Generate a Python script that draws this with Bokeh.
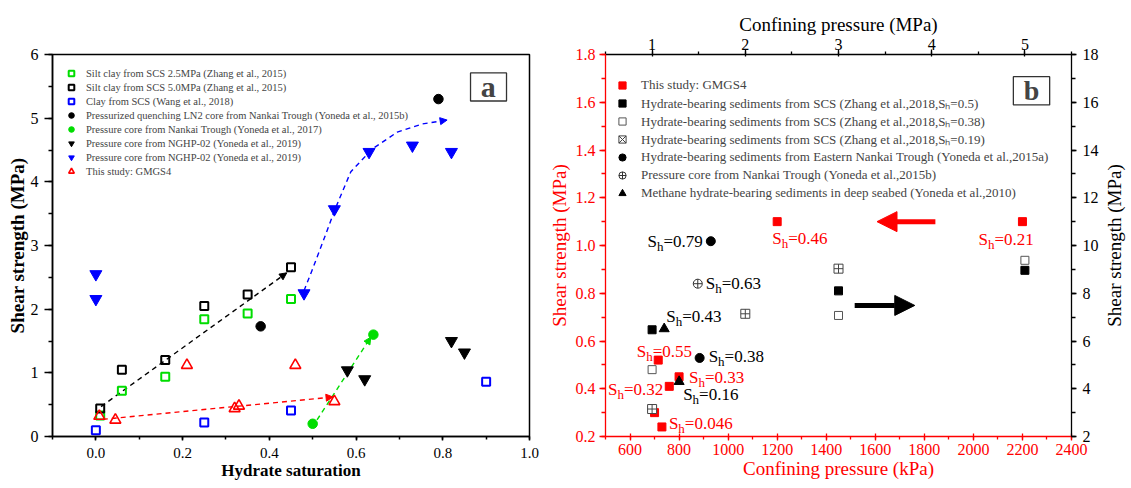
import math
from bokeh.plotting import figure
from bokeh.layouts import row
from bokeh.models import (LinearAxis, Range1d, SingleIntervalTicker, Legend, LegendItem,
                          Arrow, NormalHead, BoxAnnotation, Label, ColumnDataSource,
                          PrintfTickFormatter, Title)
from bokeh.core.properties import value, field
from bokeh.embed import file_html
from bokeh.resources import INLINE

FONT = "Liberation Serif"
RED = "#ff0000"
GREEN = "#00dd00"
BLUE = "#0000ff"
BLACK = "#000000"

# ---------------- Panel a data (hydrate saturation vs shear strength, MPa) -------------
silt25_x = [0.01, 0.06, 0.16, 0.25, 0.35, 0.45]
silt25_y = [0.33, 0.72, 0.94, 1.84, 1.93, 2.16]
silt50_x = [0.01, 0.06, 0.16, 0.25, 0.35, 0.45]
silt50_y = [0.44, 1.05, 1.20, 2.05, 2.23, 2.66]
clay_x = [0.0, 0.25, 0.45, 0.90]
clay_y = [0.10, 0.22, 0.41, 0.86]
ln2_x = [0.38, 0.79]
ln2_y = [1.73, 5.30]
nankai17_x = [0.50, 0.64]
nankai17_y = [0.20, 1.60]
nghp_k_x = [0.58, 0.62, 0.82, 0.85]
nghp_k_y = [1.04, 0.90, 1.50, 1.32]
nghp_b_x = [0.0, 0.0, 0.48, 0.55, 0.63, 0.73, 0.82]
nghp_b_y = [2.55, 2.16, 2.25, 3.57, 4.47, 4.57, 4.47]
gmgs_x = [0.008, 0.045, 0.21, 0.32, 0.33, 0.46, 0.55]
gmgs_y = [0.32, 0.26, 1.12, 0.44, 0.48, 1.12, 0.55]

# trend lines
trend_black_x = [0.012, 0.44]
trend_black_y = [0.47, 2.57]
trend_red_x = [0.016, 0.547]
trend_red_y = [0.27, 0.62]
trend_green_x = [0.51, 0.634]
trend_green_y = [0.26, 1.56]
trend_blue_x = [0.48, 0.498, 0.527, 0.551, 0.588, 0.638, 0.695, 0.753, 0.81]
trend_blue_y = [2.29, 2.60, 3.12, 3.56, 4.16, 4.52, 4.78, 4.91, 4.97]

legend_a = [
    "Silt clay from SCS 2.5MPa (Zhang et al., 2015)",
    "Silt clay from SCS 5.0MPa (Zhang et al., 2015)",
    "Clay from SCS (Wang et al., 2018)",
    "Pressurized quenching LN2 core from Nankai Trough (Yoneda et al., 2015b)",
    "Pressure core from Nankai Trough (Yoneda et al., 2017)",
    "Pressure core from NGHP-02 (Yoneda et al., 2019)",
    "Pressure core from NGHP-02 (Yoneda et al., 2019)",
    "This study: GMGS4",
]

# ---------------- Panel b data ----------------
gm_kpa = [1200, 2200, 715, 800, 760, 700, 730]
gm_tau = [1.10, 1.10, 0.52, 0.45, 0.41, 0.30, 0.24]
gm_sh = ["0.46", "0.21", "0.55", "0.33", "0.32", "", "0.046"]
z05_mpa = [1, 3, 5]
z05_tau = [6.47, 8.10, 8.96]
z038_mpa = [1, 3, 5]
z038_tau = [4.80, 7.07, 9.38]
z019_mpa = [1, 2, 3]
z019_tau = [3.15, 7.14, 9.03]
enk_mpa = [1.63, 1.51]
enk_tau = [10.18, 5.29]
enk_sh = ["0.79", "0.38"]
nk15b_mpa = [1.49]
nk15b_tau = [8.40]
nk15b_sh = ["0.63"]
deep_mpa = [1.13, 1.29]
deep_tau = [6.51, 4.30]
deep_sh = ["0.43", "0.16"]

legend_b = [
    "This study: GMGS4",
    "Hydrate-bearing sediments from SCS (Zhang et al.,2018,S\u2095=0.5)",
    "Hydrate-bearing sediments from SCS (Zhang et al.,2018,S\u2095=0.38)",
    "Hydrate-bearing sediments from SCS (Zhang et al.,2018,S\u2095=0.19)",
    "Hydrate-bearing sediments from Eastern Nankai Trough (Yoneda et al.,2015a)",
    "Pressure core from Nankai Trough (Yoneda et al.,2015b)",
    "Methane hydrate-bearing sediments in deep seabed (Yoneda et al.,2010)",
]

# label offsets (pixels): dx, dy, alignment
gm_off = [(-5, 17, "left"), (-44, 18, "left"), (-21.5, -9, "left"), (10, 1, "left"),
          (-6, 3, "right"), None, (7, -3, "left")]
enk_off = [(-8, 0, "right"), (9, -1, "left")]
nk15b_off = [(8, 0, "left")]
deep_off = [(2, -12, "left"), (4, 13, "left")]

TOP = 54      # shared frame top border (frames of a row are aligned)
BOTTOM = 52   # shared frame bottom border


def style_axis(ax, color, label_size, tick_size, bold, tin, tout, mout, standoff, lstandoff, lw=1.3):
    ax.axis_line_color = color
    ax.axis_line_width = lw
    ax.major_tick_line_color = color
    ax.minor_tick_line_color = color
    ax.major_tick_line_width = lw
    ax.minor_tick_line_width = lw
    ax.major_tick_in = tin
    ax.major_tick_out = tout
    ax.minor_tick_in = 0
    ax.minor_tick_out = mout
    ax.major_label_text_color = color
    ax.axis_label_text_color = color
    ax.major_label_text_font = FONT
    ax.axis_label_text_font = FONT
    ax.major_label_text_font_size = tick_size
    ax.axis_label_text_font_size = label_size
    ax.axis_label_text_font_style = "bold" if bold else "normal"
    ax.major_label_standoff = standoff
    ax.axis_label_standoff = lstandoff


# ======================= Panel a =======================
pa = figure(width=545, height=488, x_range=Range1d(-0.1, 1.0), y_range=Range1d(0, 6),
            output_backend="svg", toolbar_location=None,
            min_border_left=52, min_border_right=16, min_border_top=TOP, min_border_bottom=BOTTOM)
pa.xgrid.visible = False
pa.ygrid.visible = False
pa.outline_line_color = BLACK
pa.outline_line_width = 1.5
pa.background_fill_color = "white"
pa.border_fill_color = "white"

pa.xaxis.ticker = SingleIntervalTicker(interval=0.2, num_minor_ticks=2)
pa.yaxis.ticker = SingleIntervalTicker(interval=1, num_minor_ticks=2)
pa.xaxis.formatter = PrintfTickFormatter(format="%.1f")
pa.xaxis.axis_label = "Hydrate saturation"
pa.yaxis.axis_label = "Shear strength (MPa)"
style_axis(pa.xaxis[0], BLACK, "17px", "15px", True, 0, 4, 3, 7, 0, 1.5)
style_axis(pa.yaxis[0], BLACK, "19px", "16px", True, 0, 8, 4, 6, 0, 1.5)


def trend(p, xs, ys, color):
    p.line(xs, ys, line_color=color, line_dash="5 4", line_width=1.4)
    p.add_layout(Arrow(x_start=xs[-2], y_start=ys[-2], x_end=xs[-1], y_end=ys[-1],
                       line_alpha=0,
                       end=NormalHead(size=7, fill_color=color, line_color=color, line_width=1)))


trend(pa, trend_black_x, trend_black_y, BLACK)
trend(pa, trend_red_x, trend_red_y, RED)
trend(pa, trend_green_x, trend_green_y, GREEN)
trend(pa, trend_blue_x, trend_blue_y, BLUE)

r1 = pa.scatter(silt25_x, silt25_y, marker="square", size=8, fill_color=None, line_color=GREEN, line_width=2)
r2 = pa.scatter(silt50_x, silt50_y, marker="square", size=8, fill_color=None, line_color=BLACK, line_width=2)
r3 = pa.scatter(clay_x, clay_y, marker="square", size=8, fill_color=None, line_color=BLUE, line_width=2)
r4 = pa.scatter(ln2_x, ln2_y, marker="circle", size=9.5, fill_color=BLACK, line_color=BLACK)
r5 = pa.scatter(nankai17_x, nankai17_y, marker="circle", size=9.5, fill_color=GREEN, line_color=GREEN)
r6 = pa.scatter(nghp_k_x, nghp_k_y, marker="inverted_triangle", size=12, fill_color=BLACK, line_color=BLACK)
r7 = pa.scatter(nghp_b_x, nghp_b_y, marker="inverted_triangle", size=12, fill_color=BLUE, line_color=BLUE)
r8 = pa.scatter(gmgs_x, gmgs_y, marker="triangle", size=11, fill_color=None, line_color=RED, line_width=1.6)

leg_a = Legend(items=[LegendItem(label=t, renderers=[r]) for t, r in
                      zip(legend_a, [r1, r2, r3, r4, r5, r6, r7, r8])],
               location="top_left", margin=6, padding=6, glyph_width=14, glyph_height=14,
               label_height=14, spacing=0, label_standoff=8, label_text_font=FONT,
               label_text_font_size="10.5px", border_line_alpha=0, background_fill_alpha=0)
pa.add_layout(leg_a)

pa.add_layout(BoxAnnotation(left=0.864, right=0.947, bottom=5.27, top=5.71,
                            fill_alpha=0, line_color="#333333", line_width=1.3, line_alpha=1))
pa.add_layout(Label(x=0.905, y=5.49, text="a", text_font=FONT, text_font_size="30px",
                    text_font_style="bold", text_align="center", text_baseline="middle"))

# ======================= Panel b =======================
pb = figure(width=556, height=488, x_range=Range1d(500, 2400), y_range=Range1d(0.2, 1.8),
            output_backend="svg", toolbar_location=None,
            min_border_left=56, min_border_right=27, min_border_top=TOP, min_border_bottom=BOTTOM)
pb.xgrid.visible = False
pb.ygrid.visible = False
pb.outline_line_alpha = 0
pb.background_fill_color = "white"
pb.border_fill_color = "white"
pb.extra_x_ranges = {"mpa": Range1d(0.5, 5.5)}
pb.extra_y_ranges = {"right": Range1d(2, 18)}

pb.xaxis.ticker = SingleIntervalTicker(interval=200, num_minor_ticks=2)
pb.yaxis.ticker = SingleIntervalTicker(interval=0.2, num_minor_ticks=2)
pb.yaxis.formatter = PrintfTickFormatter(format="%.1f")
pb.xaxis.axis_label = "Confining pressure (kPa)"
pb.yaxis.axis_label = "Shear strength (MPa)"
style_axis(pb.xaxis[0], RED, "19px", "16px", False, 3, 4, 3, 3, 0)
style_axis(pb.yaxis[0], RED, "19px", "16px", False, 0, 6, 4, 4, 3)

top_ax = LinearAxis(x_range_name="mpa", ticker=SingleIntervalTicker(interval=1, num_minor_ticks=2),
                    axis_label="Confining pressure (MPa)")
style_axis(top_ax, BLACK, "19px", "16px", False, 2, 5, 3, 0, 1)
pb.add_layout(top_ax, "above")
right_ax = LinearAxis(y_range_name="right", ticker=SingleIntervalTicker(interval=2, num_minor_ticks=2))
style_axis(right_ax, BLACK, "19px", "16px", False, 0, 5, 4, 6, 0)
pb.add_layout(right_ax, "right")

MR = dict(x_range_name="mpa", y_range_name="right")
b1 = pb.scatter(gm_kpa, gm_tau, marker="square", size=8, fill_color=RED, line_color=RED)
b2 = pb.scatter(z05_mpa, z05_tau, marker="square", size=8, fill_color=BLACK, line_color=BLACK, **MR)
b3 = pb.scatter(z038_mpa, z038_tau, marker="square", size=8, fill_color="white", line_color="#555555", line_width=1, **MR)
b4 = pb.scatter(z019_mpa, z019_tau, marker="square_cross", size=9, fill_color="white", line_color="#444444", line_width=1, **MR)
b5 = pb.scatter(enk_mpa, enk_tau, marker="circle", size=9, fill_color=BLACK, line_color=BLACK, **MR)
b6 = pb.scatter(nk15b_mpa, nk15b_tau, marker="circle_cross", size=9, fill_color="white", line_color="#333333", line_width=1, **MR)
b7 = pb.scatter(deep_mpa, deep_tau, marker="triangle", size=10, fill_color=BLACK, line_color=BLACK, **MR)
# legend swatch for the S_h=0.19 series is drawn as a boxed "x" in the original legend
nan = float("nan")
b4_key = pb.scatter(x=[nan], y=[nan], marker="square_x", size=9, fill_color="white", line_color="#444444", line_width=1)

leg_b = Legend(items=[LegendItem(label=t, renderers=[r]) for t, r in
                      zip(legend_b, [b1, b2, b3, b4_key, b5, b6, b7])],
               location=(8, 233.7), margin=0, padding=0, glyph_width=18, glyph_height=18,
               label_height=18, spacing=0, label_standoff=10, label_text_font=FONT,
               label_text_font_size="13px", border_line_alpha=0, background_fill_alpha=0)
pb.add_layout(leg_b)

pb.add_layout(BoxAnnotation(left=2163, right=2311, bottom=1.589, top=1.707,
                            fill_alpha=0, line_color="#333333", line_width=1.3, line_alpha=1))
pb.add_layout(Label(x=2237, y=1.648, text="b", text_font=FONT, text_font_size="28px",
                    text_font_style="bold", text_align="center", text_baseline="middle"))

# big arrows (annotation positions)
red_arrow_x = [1845, 1607]
red_arrow_y = [1.10, 1.10]
black_arrow_x = [1516, 1761]
black_arrow_y = [0.749, 0.749]
pb.add_layout(Arrow(x_start=red_arrow_x[0], y_start=red_arrow_y[0], x_end=red_arrow_x[1], y_end=red_arrow_y[1],
                    line_color=RED, line_width=5,
                    end=NormalHead(size=20, fill_color=RED, line_color=RED, line_width=1)))
pb.add_layout(Arrow(x_start=black_arrow_x[0], y_start=black_arrow_y[0], x_end=black_arrow_x[1], y_end=black_arrow_y[1],
                    line_color=BLACK, line_width=5,
                    end=NormalHead(size=20, fill_color=BLACK, line_color=BLACK, line_width=1)))

# S_h labels
WID = {"S": 0.556, "h": 0.5, "=": 0.564, ".": 0.25}
MAIN = 17
SUB = 13


def tw(s, fs):
    return sum(WID.get(c, 0.5) for c in s) * fs


def add_sh(p, xs, ys, vals, offs, color, **rng):
    px, py, txt, xo, yo, sz = [], [], [], [], [], []
    for x, y, v, o in zip(xs, ys, vals, offs):
        if not v or o is None:
            continue
        dx, dy, al = o
        rest = "=" + v
        wS, wh, wr = tw("S", MAIN), tw("h", SUB), tw(rest, MAIN)
        x0 = dx if al == "left" else dx - (wS + wh + wr)
        for t, ox, oy, s in (("S", x0, dy, MAIN), ("h", x0 + wS, dy + 5, SUB), (rest, x0 + wS + wh, dy, MAIN)):
            px.append(x); py.append(y); txt.append(t); xo.append(ox); yo.append(oy); sz.append(f"{s}px")
    src = ColumnDataSource(dict(x=px, y=py, text=txt, xo=xo, yo=yo, sz=sz))
    p.text(x="x", y="y", text="text", x_offset="xo", y_offset="yo", text_font_size=field("sz"),
           text_font=value(FONT), text_color=color, text_align="left", text_baseline="middle",
           source=src, **rng)


add_sh(pb, gm_kpa, gm_tau, gm_sh, gm_off, RED)
add_sh(pb, enk_mpa, enk_tau, enk_sh, enk_off, BLACK, **MR)
add_sh(pb, nk15b_mpa, nk15b_tau, nk15b_sh, nk15b_off, BLACK, **MR)
add_sh(pb, deep_mpa, deep_tau, deep_sh, deep_off, BLACK, **MR)

# ======================= right-hand axis title (reads bottom-to-top) =======================
pc = figure(width=30, height=488, output_backend="svg", toolbar_location=None,
            x_axis_type=None, y_axis_type=None, x_range=Range1d(0, 1), y_range=Range1d(0, 1),
            min_border_left=0, min_border_right=0, min_border_top=TOP, min_border_bottom=BOTTOM)
pc.outline_line_alpha = 0
pc.background_fill_color = "white"
pc.border_fill_color = "white"
pc.xgrid.visible = False
pc.ygrid.visible = False
pc.add_layout(Title(text="Shear strength (MPa)", align="center", text_font=FONT,
                    text_font_size="19px", text_font_style="normal", text_color=BLACK,
                    standoff=0, offset=0), "left")

layout = row(pa, pb, pc)
open("out.html", "w").write(file_html(layout, INLINE))
